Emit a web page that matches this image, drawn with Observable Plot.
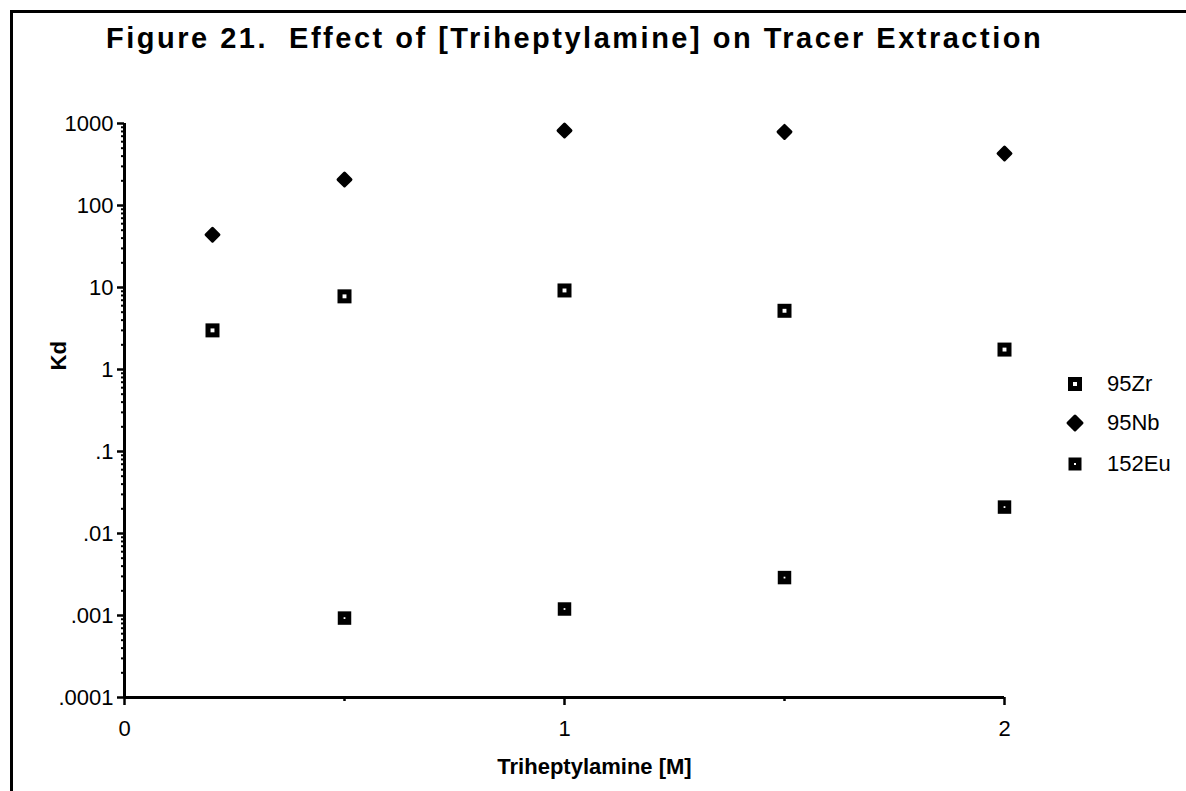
<!DOCTYPE html>
<html>
<head>
<meta charset="utf-8">
<script src="https://cdn.jsdelivr.net/npm/d3@7"></script>
<script src="https://cdn.jsdelivr.net/npm/@observablehq/plot@0.6"></script>
<style>
  html, body { margin: 0; padding: 0; background: #fff; }
  #wrap { position: relative; width: 1186px; height: 791px; overflow: hidden; font-family: "Liberation Sans", Arial, Helvetica, sans-serif; color: #000; }
  #frame { position: absolute; left: 10px; top: 10px; width: 1200px; height: 800px; border-left: 3px solid #000; border-top: 3px solid #000; box-sizing: border-box; }
  #title { position: absolute; left: 106px; top: 24px; font-weight: bold; font-size: 29px; line-height: 29px; letter-spacing: 2.5px; white-space: pre; }
  #chart { position: absolute; left: 0; top: 0; }
  #legend { position: absolute; left: 1060px; top: 370px; font-size: 22px; }
  .li { position: absolute; left: 0; height: 28px; display: flex; align-items: center; white-space: nowrap; }
  .li svg { width: 30px; height: 28px; }
  .li span { margin-left: 17px; }
</style>
</head>
<body>
<div id="wrap">
  <div id="frame"></div>
  <div id="chart"></div>
  <div id="title">Figure 21.  Effect of [Triheptylamine] on Tracer Extraction</div>
  <div id="legend"></div>
</div>
<script>
// ---- data ----
const seriesNames = ["95Zr", "95Nb", "152Eu"];
const zrX = [0.2, 0.5, 1, 1.5, 2];
const zrKd = [3, 7.8, 9.2, 5.2, 1.75];
const nbX = [0.2, 0.5, 1, 1.5, 2];
const nbKd = [44, 207, 820, 790, 430];
const euX = [0.5, 1, 1.5, 2];
const euKd = [0.00093, 0.0012, 0.0029, 0.021];

const yTickValues = [1000, 100, 10, 1, 0.1, 0.01, 0.001, 0.0001];
const yTickLabels = ["1000", "100", "10", "1", ".1", ".01", ".001", ".0001"];
const xTickValues = [0, 1, 2];
const xTickLabels = ["0", "1", "2"];
const xMinorTicks = [0.5, 1.5];
const xTitle = "Triheptylamine [M]";
const yTitle = "Kd";

// ---- derived tables ----
const zr = zrX.map((x, i) => ({x, y: zrKd[i], s: seriesNames[0]}));
const nb = nbX.map((x, i) => ({x, y: nbKd[i], s: seriesNames[1]}));
const eu = euX.map((x, i) => ({x, y: euKd[i], s: seriesNames[2]}));
const yLabelMap = new Map(yTickValues.map((v, i) => [v, yTickLabels[i]]));
const xLabelMap = new Map(xTickValues.map((v, i) => [v, xTickLabels[i]]));
const yMinorTicks = [];
for (let e = -4; e < 3; e++) for (let k = 2; k <= 9; k++) yMinorTicks.push(k * Math.pow(10, e));

const chart = Plot.plot({
  width: 1186,
  height: 791,
  marginLeft: 124,
  marginRight: 182,
  marginTop: 123,
  marginBottom: 94,
  x: {domain: [0, 2]},
  y: {type: "log", domain: [0.0001, 1000]},
  style: {fontFamily: "Liberation Sans, Arial, Helvetica, sans-serif", fontSize: "22px", color: "#000", background: "transparent", overflow: "visible"},
  marks: [
    Plot.axisY(yMinorTicks, {tickSize: 3, strokeWidth: 2, tickFormat: () => "", label: null}),
    Plot.axisY(yTickValues, {tickSize: 7, strokeWidth: 2.5, tickPadding: 4, tickFormat: d => yLabelMap.get(d), label: null, fontSize: 22}),
    Plot.axisX(xMinorTicks, {tickSize: 4, strokeWidth: 2.5, tickFormat: () => "", label: null}),
    Plot.axisX(xTickValues, {tickSize: 8, strokeWidth: 2.5, tickPadding: 15, tickFormat: d => xLabelMap.get(d), label: null, fontSize: 22}),
    Plot.ruleX([0], {strokeWidth: 3}),
    Plot.ruleY([0.0001], {strokeWidth: 3}),
    // 95Nb: filled rounded diamond
    Plot.dot(nb, {x: "x", y: "y", symbol: "diamond2", r: 5.8, fill: "#000", stroke: "#000", strokeWidth: 3, strokeLinejoin: "round"}),
    // 95Zr: heavy open square with small white centre
    Plot.dot(zr, {x: "x", y: "y", symbol: "square", r: 7.9, fill: "#000", stroke: "none"}),
    Plot.dot(zr, {x: "x", y: "y", symbol: "square", r: 2.2, fill: "#fff", stroke: "none"}),
    // 152Eu: filled square with tiny white dot
    Plot.dot(eu, {x: "x", y: "y", symbol: "square", r: 7.6, fill: "#000", stroke: "none"}),
    Plot.dot(eu, {x: "x", y: "y", symbol: "square", r: 1.0, fill: "#fff", stroke: "none"}),
    Plot.text([yTitle], {frameAnchor: "left", dx: -66, dy: -40, rotate: -90, fontWeight: "bold", fontSize: 22}),
    Plot.text([xTitle], {frameAnchor: "bottom", dx: 30, dy: 76, fontWeight: "bold", fontSize: 22, textAnchor: "middle", letterSpacing: "0.6px"})
  ]
});
document.getElementById("chart").appendChild(chart);

// ---- legend ----
const legendMarkers = {
  "95Zr": '<rect x="8" y="7" width="14" height="14" fill="#000"/><rect x="13" y="12" width="4" height="4" fill="#fff"/>',
  "95Nb": '<path d="M15 7 L22 14 L15 21 L8 14 Z" fill="#000" stroke="#000" stroke-width="3" stroke-linejoin="round"/>',
  "152Eu": '<rect x="8.5" y="7.5" width="13" height="13" fill="#000"/><rect x="14" y="13" width="2" height="2" fill="#fff"/>'
};
const legendTops = [0, 39, 80];
const legend = document.getElementById("legend");
seriesNames.forEach((name, i) => {
  const row = document.createElement("div");
  row.className = "li";
  row.style.top = legendTops[i] + "px";
  row.innerHTML = '<svg viewBox="0 0 30 28">' + legendMarkers[name] + '</svg><span>' + name + '</span>';
  legend.appendChild(row);
});
</script>
</body>
</html>
